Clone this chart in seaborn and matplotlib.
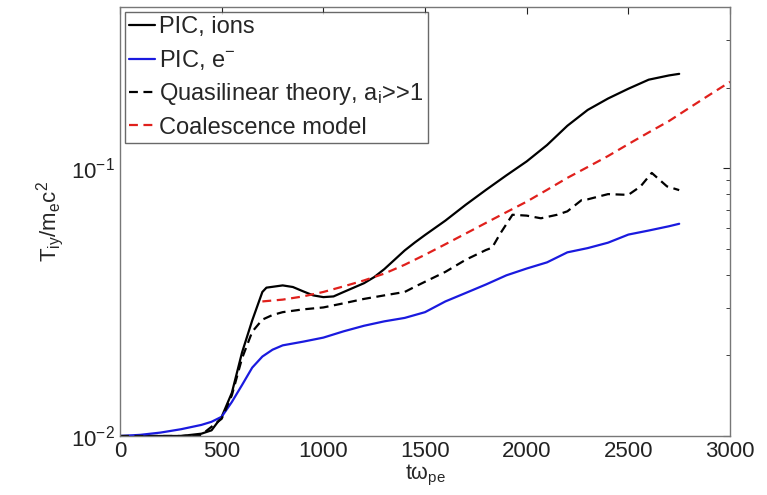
import numpy as np
import pandas as pd
import matplotlib
matplotlib.use("Agg")
import matplotlib.pyplot as plt
import seaborn as sns

sns.set_theme(style="white")
plt.rcParams["font.family"] = ["Liberation Sans", "DejaVu Sans"]
plt.rcParams["mathtext.fontset"] = "custom"
plt.rcParams["mathtext.rm"] = "Liberation Sans"
plt.rcParams["mathtext.it"] = "Liberation Sans"
plt.rcParams["mathtext.bf"] = "Liberation Sans:bold"

# PIC ion temperature
t_ions = [0, 100, 200, 300, 400, 450, 500, 550, 600, 650, 700, 720, 800, 850, 900,
          950, 1000, 1050, 1100, 1200, 1250, 1300, 1350, 1400, 1450, 1500, 1600,
          1700, 1800, 1900, 2000, 2100, 2200, 2300, 2400, 2500, 2600, 2700, 2750]
T_ions = [0.0100, 0.0100, 0.0100, 0.0100, 0.0102, 0.0105, 0.0118, 0.0145, 0.0205,
          0.0270, 0.0345, 0.0358, 0.0365, 0.0360, 0.0347, 0.0335, 0.0330, 0.0332,
          0.0345, 0.0372, 0.0392, 0.0420, 0.0455, 0.0493, 0.0528, 0.0563, 0.0637,
          0.0730, 0.0830, 0.0940, 0.1060, 0.1220, 0.1440, 0.1650, 0.1820, 0.1980,
          0.2140, 0.2220, 0.2250]

# PIC electron temperature
t_elec = [0, 100, 200, 300, 400, 450, 500, 550, 600, 650, 700, 750, 800, 900, 1000,
          1100, 1200, 1300, 1400, 1500, 1600, 1700, 1800, 1900, 2000, 2100, 2200,
          2300, 2400, 2500, 2600, 2700, 2750]
T_elec = [0.0100, 0.0101, 0.0103, 0.0106, 0.0110, 0.0113, 0.0118, 0.0134, 0.0155,
          0.0180, 0.0198, 0.0210, 0.0218, 0.0225, 0.0233, 0.0246, 0.0258, 0.0268,
          0.0276, 0.0290, 0.0318, 0.0342, 0.0368, 0.0398, 0.0422, 0.0445, 0.0485,
          0.0503, 0.0527, 0.0565, 0.0585, 0.0607, 0.0620]

# Quasilinear theory estimate
t_ql = [0, 100, 200, 300, 400, 500, 550, 600, 650, 700, 750, 800, 900, 1000, 1100,
        1200, 1300, 1400, 1460, 1550, 1600, 1700, 1800, 1830, 1870, 1930, 2000, 2070,
        2150, 2200, 2270, 2300, 2400, 2500, 2560, 2615, 2690, 2750]
T_ql = [0.0100, 0.0100, 0.0100, 0.0100, 0.0101, 0.0116, 0.0142, 0.0195, 0.0245,
        0.0272, 0.0283, 0.0290, 0.0297, 0.0302, 0.0313, 0.0325, 0.0335, 0.0345,
        0.0364, 0.0393, 0.0410, 0.0455, 0.0495, 0.0505, 0.0570, 0.0670, 0.0665,
        0.0650, 0.0670, 0.0690, 0.0760, 0.0765, 0.0800, 0.0795, 0.0855, 0.0960,
        0.0855, 0.0828]

# Coalescence model
t_coal = [700, 800, 900, 1000, 1100, 1200, 1300, 1400, 1500, 1600, 1700, 1800, 1900,
          2000, 2100, 2200, 2300, 2400, 2500, 2600, 2700, 2800, 2900, 3000]
T_coal = [0.0318, 0.0323, 0.0332, 0.0345, 0.0362, 0.0381, 0.0404, 0.0436, 0.0475,
          0.0520, 0.0570, 0.0625, 0.0685, 0.0750, 0.0830, 0.0920, 0.1010, 0.1110,
          0.1230, 0.1360, 0.1500, 0.1680, 0.1880, 0.2100]

labels = ["PIC, ions", r"PIC, e$^{-}$", r"Quasilinear theory, a$_{i}$>>1",
          "Coalescence model"]

fig = plt.figure(figsize=(7.67, 4.95), dpi=100)
ax = fig.add_axes([0.1565, 0.1192, 0.7953, 0.8668])

sns.lineplot(x=t_ions, y=T_ions, ax=ax, color="black", lw=1.6, label=labels[0])
sns.lineplot(x=t_elec, y=T_elec, ax=ax, color="#1a1adf", lw=1.6, label=labels[1])
sns.lineplot(x=t_ql, y=T_ql, ax=ax, color="black", lw=1.6, label=labels[2],
             dashes=False, linestyle=(0, (4, 2.5)))
sns.lineplot(x=t_coal, y=T_coal, ax=ax, color="#e0201c", lw=1.6, label=labels[3],
             dashes=False, linestyle=(0, (4, 2.5)))

ax.set_yscale("log")
ax.set_xlim(0, 3000)
ax.set_ylim(0.01, 0.4)
ax.set_xticks([0, 500, 1000, 1500, 2000, 2500, 3000])

ax.tick_params(which="both", direction="in", top=True, right=True,
               labelsize=16, colors="#222222")
ax.tick_params(which="major", length=5, width=0.8)
ax.tick_params(which="minor", length=3, width=0.6)
for s in ax.spines.values():
    s.set_color("#777777")
    s.set_linewidth(1.0)

ax.set_xlabel(r"t$\omega_{\mathrm{pe}}$", fontsize=15.5, labelpad=1)
ax.set_ylabel(r"T$_{\mathrm{iy}}$/m$_{\mathrm{e}}$c$^{2}$", fontsize=16, labelpad=4)

leg = ax.legend(loc="upper left", fontsize=17, frameon=True, fancybox=False,
                handlelength=1.1, handletextpad=0.15, labelspacing=0.4,
                borderpad=0.2, borderaxespad=0.2)
leg.get_frame().set_edgecolor("#444444")
leg.get_frame().set_linewidth(1.0)

fig.savefig("out.png", dpi=100)
